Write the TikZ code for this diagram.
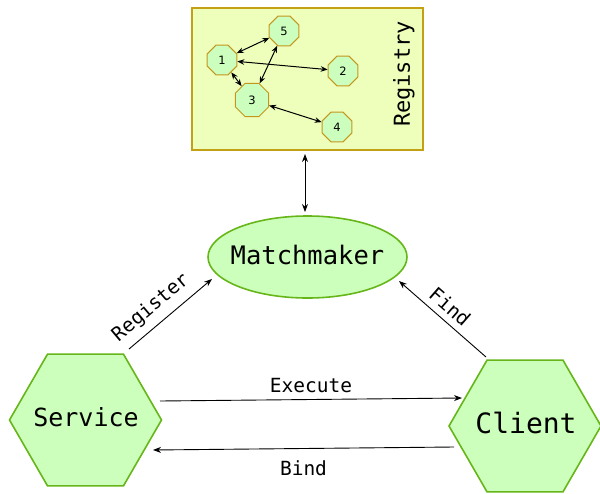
\documentclass[tikz,border=0pt]{standalone}
\usepackage{fontspec}
\setmonofont{DejaVu Sans Mono}
\newfontfamily\numfont{DejaVu Sans}
\usetikzlibrary{shapes.geometric,arrows.meta,calc}
\definecolor{hexfill}{RGB}{204,255,187}
\definecolor{hexline}{RGB}{102,182,26}
\definecolor{regfill}{RGB}{238,255,187}
\definecolor{regline}{RGB}{196,160,20}
\definecolor{octfill}{RGB}{204,255,190}
\definecolor{octline}{RGB}{196,150,30}
\begin{document}
\begin{tikzpicture}[x=1pt,y=1pt,
  hexnode/.style={regular polygon,regular polygon sides=6,minimum size=152pt,inner sep=0pt,
    fill=hexfill,draw=hexline,line width=1.6pt},
  octnode/.style={regular polygon,regular polygon sides=8,minimum size=32pt,inner sep=0pt,
    fill=octfill,draw=octline,line width=1pt,font=\numfont\fontsize{11.5}{12}\selectfont},
  flow/.style={-{Stealth[length=8pt,width=6pt]},line width=0.9pt},
  inner/.style={{Stealth[length=7pt,width=5.5pt]}-{Stealth[length=7pt,width=5.5pt]},line width=1pt},
  lbl/.style={font=\ttfamily\fontsize{19.5}{21}\selectfont}
]
\useasboundingbox (0,-493) rectangle (600,0);
% Registry
\node[draw=regline,fill=regfill,line width=2pt,minimum width=231pt,minimum height=142pt,inner sep=0pt,anchor=north west] (reg) at (191,-7) {};
\node[rotate=90,font=\ttfamily\fontsize{22}{24}\selectfont] (regtxt) at (404,-74) {Registry};
\node[octnode] (n1) at (222,-60) {1};
\node[octnode] (n5) at (284,-31) {5};
\node[octnode] (n2) at (343,-71) {2};
\node[octnode,minimum size=36pt] (n3) at (252,-100) {3};
\node[octnode] (n4) at (337,-127) {4};
\draw[inner] (n1) -- (n5);
\draw[inner] (n1) -- (n2);
\draw[inner] (n1) -- (n3);
\draw[inner] (n3) -- (n5);
\draw[inner] (n3) -- (n4);
% Matchmaker
\node[ellipse,fill=hexfill,draw=hexline,line width=1.6pt,minimum width=199pt,minimum height=82pt,inner sep=0pt] (mm) at (307.5,-257) {};
\node[font=\ttfamily\fontsize{25.5}{28}\selectfont] (mmtxt) at (307.5,-255) {Matchmaker};
\coordinate (ra) at (305,-154);
\coordinate (rb) at (305,-212);
\draw[{Stealth[length=8pt,width=6pt]}-{Stealth[length=8pt,width=6pt]},line width=0.9pt] (ra) -- (rb);
% Service and Client
\node[hexnode] (svc) at (85.5,-420) {};
\node[font=\ttfamily\fontsize{25}{28}\selectfont] (svctxt) at (86,-417) {Service};
\node[hexnode] (cli) at (525,-426) {};
\node[font=\ttfamily\fontsize{28}{30}\selectfont] (clitxt) at (526,-423) {Client};
\coordinate (regS) at (129,-349);
\coordinate (regE) at (212,-279);
\draw[flow] (regS) -- node[lbl,sloped,above=4pt,pos=0.4] {Register} (regE);
\coordinate (findS) at (486,-357);
\coordinate (findE) at (399,-281);
\draw[flow] (findS) -- node[lbl,sloped,above=3pt,pos=0.52] {Find} (findE);
\coordinate (exS) at (160,-401);
\coordinate (exE) at (462,-398);
\draw[flow] (exS) -- node[lbl,above,yshift=3pt] {Execute} (exE);
\coordinate (bdS) at (454,-447);
\coordinate (bdE) at (153,-450);
\draw[flow] (bdS) -- node[lbl,below,yshift=-8pt] {Bind} (bdE);
\end{tikzpicture}
\end{document}
